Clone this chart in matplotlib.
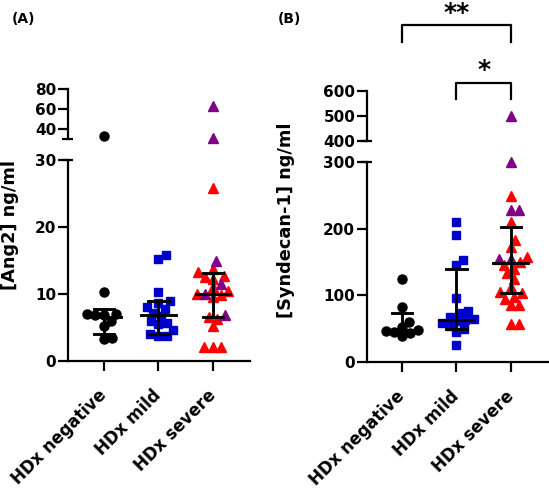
import matplotlib.pyplot as plt
import numpy as np

plt.rcParams['font.family'] = 'DejaVu Sans'
plt.rcParams['font.weight'] = 'bold'

groups = ['HDx negative', 'HDx mild', 'HDx severe']

# Ang2 (ng/ml)
ang2_negative = [33.5, 10.3, 7.0, 7.0, 6.8, 6.8, 6.0, 5.2, 3.5, 3.3]
ang2_mild = [15.8, 15.2, 10.3, 8.9, 8.7, 8.1, 7.8, 7.2, 6.7, 6.0, 5.6, 5.5,
             4.7, 4.0, 3.8, 3.7]
ang2_severe_red = [25.8, 13.8, 13.3, 12.7, 12.5, 12.3, 11.0, 10.5, 10.0, 9.8,
                   9.5, 6.5, 6.3, 5.2, 2.1, 2.1, 2.1]
ang2_severe_purple = [63.5, 30.8, 15.0, 11.5, 10.0, 6.8]
ang2_median = [6.6, 6.8, 10.0]
ang2_q1 = [4.0, 4.1, 6.6]
ang2_q3 = [7.8, 8.9, 13.1]

# Syndecan-1 (ng/ml)
syn_negative = [124, 83, 60, 53, 48, 46, 45, 43, 39]
syn_mild = [210, 190, 153, 145, 96, 76, 74, 68, 65, 63, 62, 58, 54, 50, 45, 26]
syn_severe_red = [249, 210, 183, 172, 157, 150, 145, 140, 133, 125, 113, 105,
                  103, 98, 95, 86, 86, 57, 57]
syn_severe_purple = [500, 300, 228, 228, 155, 155]
syn_median = [48, 63, 148]
syn_q1 = [44, 49, 103]
syn_q3 = [73, 139, 203]

W, H = 549, 488
fig = plt.figure(figsize=(W / 100, H / 100), dpi=100)

LW = 1.6
BLACK = 'black'
BLUE = '#0000CC'
RED = '#FF0000'
PURPLE = '#800088'
SLOT = 54.5  # pixels between categories


def px_axes(x0, x1, ytop, ybot):
    return fig.add_axes([x0 / W, (H - ybot) / H, (x1 - x0) / W, (ybot - ytop) / H])


def style(ax, bottom=True):
    for s in ['top', 'right']:
        ax.spines[s].set_visible(False)
    ax.spines['bottom'].set_visible(bottom)
    for s in ['left', 'bottom']:
        ax.spines[s].set_linewidth(LW)
    ax.tick_params(width=LW, length=7, labelsize=11, pad=1.5, colors='black')
    ax.patch.set_alpha(0)


def break_cap(ax, ypos):
    # short line across the spine at an axis break
    ax.plot([-0.035, 0.03], [ypos, ypos], transform=ax.transAxes, color=BLACK,
            lw=LW, clip_on=False, solid_capstyle='butt')


def swarm(values, ax_lo, ax_hi, top_lo, d=8.5):
    """beeswarm: place points in y order at the free x closest to the centre"""
    vals = np.asarray(values, dtype=float)
    ypx = np.array([(ax_lo if v <= top_lo else ax_hi).transData.transform((0, v))[1]
                    for v in vals])
    offs = np.zeros(len(vals))
    placed = []
    for i in np.argsort(ypx):
        y = ypx[i]
        cands = [0.0]
        for (px, py) in placed:
            dy = abs(py - y)
            if dy < d:
                dx = np.sqrt(d * d - dy * dy)
                cands += [px + dx, px - dx]
        cands.sort(key=lambda c: (abs(c), -c))
        for c in cands:
            if all((c - px) ** 2 + (y - py) ** 2 >= d * d - 1e-6 for px, py in placed):
                break
        placed.append((c, y))
        offs[i] = c / SLOT
    return offs


def draw_panel(ax_lo, ax_hi, top_lo, series, med, q1, q3):
    for k, (vals, cols, marker, ms) in enumerate(series):
        offs = swarm(vals, ax_lo, ax_hi, top_lo)
        for v, c, o in zip(vals, cols, offs):
            ax = ax_lo if v <= top_lo else ax_hi
            ax.plot(k + o, v, marker=marker, ms=ms, color=c, mec=c, ls='none',
                    clip_on=False, zorder=3)
        ax_lo.plot([k - 0.32, k + 0.32], [med[k], med[k]], color=BLACK, lw=LW * 1.3, zorder=4)
        ax_lo.plot([k, k], [q1[k], q3[k]], color=BLACK, lw=LW * 1.3, zorder=4)
        for q in (q1[k], q3[k]):
            ax_lo.plot([k - 0.19, k + 0.19], [q, q], color=BLACK, lw=LW * 1.3, zorder=4)


# ---------- panel A ----------
a_lo = px_axes(68, 250, 160, 361)
a_hi = px_axes(68, 250, 89, 139)
for ax in (a_lo, a_hi):
    ax.set_xlim(-0.66, 2.68)
a_lo.set_ylim(0, 30)
a_hi.set_ylim(30, 80)
style(a_lo)
style(a_hi, bottom=False)
a_lo.set_yticks([0, 10, 20, 30])
a_hi.set_yticks([40, 60, 80])
a_hi.set_xticks([])
a_lo.set_xticks(range(3))
a_lo.set_xticklabels(groups, rotation=45, ha='right', va='center',
                     rotation_mode='anchor', fontsize=12)
a_lo.tick_params(axis='x', pad=16)
break_cap(a_lo, 1.0)
break_cap(a_hi, 0.0)

sev_a = ang2_severe_red + ang2_severe_purple
series_a = [
    (ang2_negative, [BLACK] * len(ang2_negative), 'o', 6.5),
    (ang2_mild, [BLUE] * len(ang2_mild), 's', 6.2),
    (sev_a, [RED] * len(ang2_severe_red) + [PURPLE] * len(ang2_severe_purple), '^', 6.6),
]
draw_panel(a_lo, a_hi, 30, series_a, ang2_median, ang2_q1, ang2_q3)
fig.text(10 / W, 1 - 225 / H, '[Ang2] ng/ml', rotation=90, ha='center', va='center',
         fontsize=12.8, fontweight='bold')
fig.text(12 / W, 1 - 19 / H, '(A)', ha='left', va='center', fontsize=10, fontweight='bold')

# ---------- panel B ----------
b_lo = px_axes(367, 548, 162, 362)
b_hi = px_axes(367, 548, 91, 141)
for ax in (b_lo, b_hi):
    ax.set_xlim(-0.64, 2.68)
b_lo.set_ylim(0, 300)
b_hi.set_ylim(400, 600)
style(b_lo)
style(b_hi, bottom=False)
b_lo.set_yticks([0, 100, 200, 300])
b_hi.set_yticks([400, 500, 600])
b_hi.set_xticks([])
b_lo.set_xticks(range(3))
b_lo.set_xticklabels(groups, rotation=45, ha='right', va='center',
                     rotation_mode='anchor', fontsize=12)
b_lo.tick_params(axis='x', pad=16)
break_cap(b_lo, 1.0)
break_cap(b_hi, 0.0)

sev_b = syn_severe_red + syn_severe_purple
series_b = [
    (syn_negative, [BLACK] * len(syn_negative), 'o', 6.5),
    (syn_mild, [BLUE] * len(syn_mild), 's', 6.2),
    (sev_b, [RED] * len(syn_severe_red) + [PURPLE] * len(syn_severe_purple), '^', 6.6),
]
draw_panel(b_lo, b_hi, 300, series_b, syn_median, syn_q1, syn_q3)
fig.text(286 / W, 1 - 220 / H, '[Syndecan-1] ng/ml', rotation=90, ha='center',
         va='center', fontsize=12.8, fontweight='bold')
fig.text(278 / W, 1 - 19 / H, '(B)', ha='left', va='center', fontsize=10, fontweight='bold')

# significance brackets (in data coords of upper right axis)
def bracket(ax, x0, x1, ytop, ybot, label, ytext):
    ax.plot([x0, x0, x1, x1], [ybot, ytop, ytop, ybot], color=BLACK, lw=LW,
            clip_on=False)
    ax.text((x0 + x1) / 2, ytext, label, ha='center', va='center', fontsize=18,
            fontweight='bold', clip_on=False)

bracket(b_hi, 0, 2, 864, 796, '**', 910)
bracket(b_hi, 1, 2, 632, 568, '*', 684)

fig.savefig('out.png', dpi=100)
